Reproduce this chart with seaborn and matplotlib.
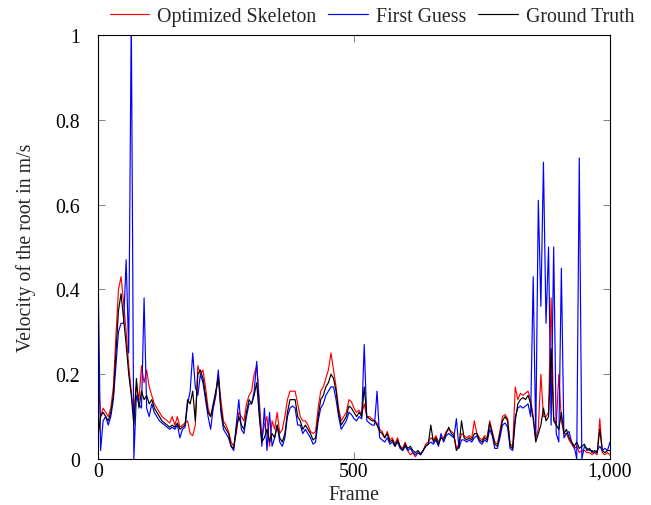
"""
Root velocity per frame: optimized skeleton vs first guess vs ground truth.

Output: out.png
"""

import matplotlib
matplotlib.use("Agg")
import matplotlib.pyplot as plt
import matplotlib.ticker as mticker
import numpy as np
import seaborn as sns

RED = "#ff0000"
BLUE = "#0000ff"
BLACK = "#000000"
FS = 14.3

# frames sampled every 5 frames, 0..1000
frames = np.arange(0, 1001, 5)

ground_truth = [
    0.05, 0.10, 0.11, 0.10, 0.09, 0.11, 0.15, 0.25, 0.35, 0.39,
    0.33, 0.27, 0.20, 0.15, 0.08, 0.19, 0.12, 0.16, 0.14, 0.15,
    0.13, 0.14, 0.12, 0.11, 0.10, 0.09, 0.085, 0.08, 0.075, 0.08,
    0.075, 0.085, 0.07, 0.075, 0.08, 0.14, 0.13, 0.16, 0.09, 0.20,
    0.21, 0.19, 0.15, 0.11, 0.10, 0.13, 0.16, 0.19, 0.12, 0.08,
    0.07, 0.06, 0.03, 0.025, 0.07, 0.10, 0.08, 0.07, 0.11, 0.14,
    0.13, 0.15, 0.18, 0.10, 0.04, 0.05, 0.07, 0.04, 0.06, 0.05,
    0.08, 0.05, 0.04, 0.06, 0.11, 0.14, 0.14, 0.14, 0.10, 0.09,
    0.07, 0.08, 0.07, 0.06, 0.045, 0.05, 0.10, 0.14, 0.15, 0.17,
    0.18, 0.20, 0.19, 0.16, 0.11, 0.08, 0.09, 0.10, 0.125, 0.12,
    0.11, 0.10, 0.11, 0.10, 0.17, 0.10, 0.095, 0.09, 0.09, 0.08,
    0.065, 0.06, 0.05, 0.06, 0.04, 0.045, 0.03, 0.045, 0.03, 0.02,
    0.035, 0.025, 0.03, 0.02, 0.015, 0.02, 0.012, 0.02, 0.03, 0.035,
    0.08, 0.04, 0.05, 0.035, 0.05, 0.045, 0.06, 0.075, 0.06, 0.055,
    0.02, 0.03, 0.09, 0.05, 0.045, 0.05, 0.045, 0.06, 0.06, 0.045,
    0.04, 0.05, 0.045, 0.085, 0.06, 0.035, 0.03, 0.06, 0.09, 0.10,
    0.09, 0.03, 0.025, 0.09, 0.13, 0.14, 0.145, 0.14, 0.15, 0.13,
    0.095, 0.04, 0.06, 0.08, 0.12, 0.09, 0.10, 0.26, 0.09, 0.08,
    0.07, 0.11, 0.06, 0.07, 0.05, 0.04, 0.03, 0.04, 0.025, 0.03,
    0.035, 0.02, 0.025, 0.015, 0.02, 0.015, 0.07, 0.02, 0.015, 0.02,
    0.02,
]

optimized = [
    0.20, 0.10, 0.12, 0.11, 0.10, 0.12, 0.17, 0.29, 0.40, 0.43,
    0.37, 0.30, 0.22, 0.16, 0.10, 0.17, 0.14, 0.22, 0.18, 0.21,
    0.17, 0.15, 0.13, 0.12, 0.11, 0.10, 0.095, 0.09, 0.085, 0.10,
    0.08, 0.10, 0.075, 0.08, 0.085, 0.09, 0.06, 0.055, 0.08, 0.22,
    0.20, 0.21, 0.17, 0.12, 0.10, 0.12, 0.15, 0.20, 0.14, 0.09,
    0.08, 0.065, 0.04, 0.03, 0.06, 0.11, 0.10, 0.09, 0.13, 0.15,
    0.16, 0.20, 0.22, 0.14, 0.05, 0.08, 0.10, 0.03, 0.09, 0.07,
    0.11, 0.06, 0.07, 0.10, 0.14, 0.16, 0.16, 0.16, 0.13, 0.10,
    0.09, 0.09, 0.08, 0.065, 0.06, 0.065, 0.12, 0.16, 0.17, 0.19,
    0.21, 0.25, 0.21, 0.17, 0.12, 0.09, 0.10, 0.11, 0.14, 0.135,
    0.12, 0.11, 0.115, 0.105, 0.13, 0.10, 0.10, 0.095, 0.09, 0.085,
    0.07, 0.065, 0.05, 0.065, 0.045, 0.05, 0.035, 0.05, 0.03, 0.025,
    0.04, 0.02, 0.01, 0.015, 0.005, 0.015, 0.01, 0.02, 0.035, 0.04,
    0.05, 0.045, 0.055, 0.04, 0.05, 0.05, 0.065, 0.07, 0.065, 0.06,
    0.025, 0.035, 0.06, 0.055, 0.05, 0.055, 0.05, 0.09, 0.06, 0.05,
    0.045, 0.055, 0.05, 0.09, 0.065, 0.04, 0.035, 0.065, 0.10, 0.105,
    0.095, 0.035, 0.03, 0.17, 0.14, 0.155, 0.15, 0.155, 0.16, 0.14,
    0.10, 0.05, 0.07, 0.20, 0.10, 0.10, 0.11, 0.38, 0.10, 0.08,
    0.20, 0.09, 0.06, 0.06, 0.045, 0.035, 0.025, 0.03, 0.015, 0.02,
    0.02, 0.015, 0.015, 0.01, 0.015, 0.01, 0.095, 0.015, 0.01, 0.015,
    0.01,
]

first_guess = [
    0.46, 0.02, 0.09, 0.10, 0.08, 0.10, 0.14, 0.22, 0.30, 0.32,
    0.32, 0.47, 0.25, 1.05, 0.00, 0.15, 0.13, 0.12, 0.38, 0.12,
    0.10, 0.13, 0.11, 0.10, 0.09, 0.085, 0.08, 0.075, 0.07, 0.075,
    0.07, 0.08, 0.05, 0.07, 0.075, 0.13, 0.16, 0.25, 0.17, 0.15,
    0.20, 0.18, 0.14, 0.10, 0.07, 0.12, 0.15, 0.21, 0.11, 0.07,
    0.06, 0.05, 0.03, 0.02, 0.08, 0.14, 0.07, 0.06, 0.10, 0.13,
    0.13, 0.16, 0.23, 0.12, 0.03, 0.12, 0.02, 0.11, 0.03, 0.05,
    0.08, 0.04, 0.03, 0.05, 0.10, 0.12, 0.125, 0.12, 0.08, 0.08,
    0.06, 0.07, 0.06, 0.05, 0.035, 0.04, 0.09, 0.12, 0.13, 0.15,
    0.16, 0.17, 0.17, 0.14, 0.10, 0.07, 0.08, 0.09, 0.11, 0.105,
    0.095, 0.09, 0.10, 0.095, 0.27, 0.09, 0.085, 0.08, 0.08, 0.16,
    0.05, 0.045, 0.04, 0.05, 0.035, 0.04, 0.03, 0.04, 0.025, 0.02,
    0.03, 0.02, 0.025, 0.015, 0.01, 0.015, 0.01, 0.02, 0.03, 0.035,
    0.04, 0.035, 0.045, 0.03, 0.06, 0.04, 0.055, 0.06, 0.055, 0.05,
    0.095, 0.025, 0.045, 0.045, 0.04, 0.045, 0.04, 0.05, 0.055, 0.04,
    0.035, 0.045, 0.04, 0.07, 0.055, 0.025, 0.025, 0.05, 0.08, 0.085,
    0.075, 0.025, 0.02, 0.10, 0.12, 0.125, 0.12, 0.125, 0.13, 0.10,
    0.43, 0.05, 0.61, 0.36, 0.70, 0.32, 0.50, 0.08, 0.50, 0.06,
    0.04, 0.45, 0.05, 0.06, 0.065, 0.04, 0.03, 0.00, 0.71, 0.00,
    0.03, 0.025, 0.02, 0.02, 0.015, 0.02, 0.03, 0.02, 0.025, 0.02,
    0.04,
]

assert len(frames) == len(ground_truth) == len(optimized) == len(first_guess)

sns.set_theme(style="ticks")
plt.rcParams["font.family"] = ["Liberation Serif", "DejaVu Serif"]

fig = plt.figure(figsize=(6.51, 5.06), dpi=100)
ax = fig.add_axes([98 / 651, 1 - 460 / 506, 512 / 651, 424 / 506])

lw = 0.85
sns.lineplot(x=frames, y=optimized, ax=ax, color=RED, linewidth=lw, label="Optimized Skeleton")
sns.lineplot(x=frames, y=first_guess, ax=ax, color=BLUE, linewidth=lw, label="First Guess")
sns.lineplot(x=frames, y=ground_truth, ax=ax, color=BLACK, linewidth=lw, label="Ground Truth")

ax.set_xlim(0, 1000)
ax.set_ylim(0, 1)
ax.set_xticks([0, 500, 1000])
ax.set_yticks([0, 0.2, 0.4, 0.6, 0.8, 1])
ax.xaxis.set_major_formatter(mticker.FuncFormatter(lambda v, _: f"{int(v):,}"))
ax.yaxis.set_major_formatter(mticker.FuncFormatter(
    lambda v, _: "0" if v == 0 else ("1" if v == 1 else f"{v:.1f}")))

ax.tick_params(direction="in", top=True, right=True, length=5, width=0.7,
               color="0.5", labelsize=FS, labelcolor="black")
ax.tick_params(axis="y", pad=13)
ax.tick_params(axis="x", pad=2)
for spine in ax.spines.values():
    spine.set_visible(True)
    spine.set_edgecolor("black")
    spine.set_linewidth(0.8)

ax.set_xlabel("Frame", fontsize=FS, labelpad=3)
ax.set_ylabel("Velocity of the root in m/s", fontsize=FS, labelpad=14)

ax.legend(loc="center", bbox_to_anchor=(0.535, 1.043), ncol=3, frameon=False,
          fontsize=FS, handlelength=2.0, handletextpad=0.4, columnspacing=0.6,
          borderaxespad=0)

fig.savefig("out.png", dpi=100)
plt.close(fig)
